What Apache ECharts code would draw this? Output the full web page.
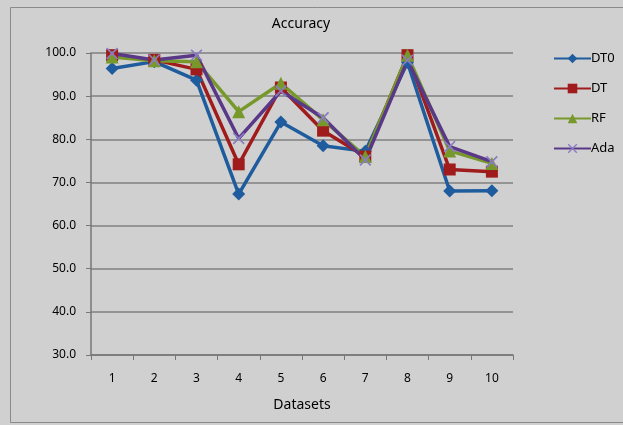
<!DOCTYPE html>
<html><head><meta charset="utf-8">
<script src="https://cdn.jsdelivr.net/npm/echarts@6/dist/echarts.min.js"></script>
<style>html,body{margin:0;padding:0;background:#d0d0d0}#c{width:623px;height:425px}</style>
</head><body><div id="c"></div>
<script>
var categories = ['1','2','3','4','5','6','7','8','9','10'];
var dt0 = [96.4, 98.0, 93.7, 67.3, 84.0, 78.5, 77.2, 97.8, 68.0, 68.1];
var dt  = [99.5, 98.4, 96.2, 74.2, 92.0, 82.0, 76.0, 99.5, 73.0, 72.5];
var rf  = [99.1, 98.2, 98.0, 86.4, 93.0, 84.5, 76.0, 99.5, 77.3, 74.4];
var ada = [99.9, 98.4, 99.5, 80.2, 91.2, 85.0, 75.2, 98.3, 78.3, 74.8];
var yTicks = [30, 40, 50, 60, 70, 80, 90, 100];

var font = 'Noto Sans';
var cross = 'path://M0,1 L1,0 L5,4 L9,0 L10,1 L6,5 L10,9 L9,10 L5,6 L1,10 L0,9 L4,5 Z';
function s(name, data, color, symbol, size, symColor) {
  return {name: name, type: 'line', data: data, symbol: symbol, symbolSize: size,
    lineStyle: {width: 3.5, color: color}, itemStyle: {color: symColor || color},
    emphasis: {disabled: true}, animation: false};
}
var chart = echarts.init(document.getElementById('c'));
chart.setOption({
  backgroundColor: '#d0d0d0',
  animation: false,
  graphic: [{type: 'rect', shape: {x: 10.5, y: 7.5, width: 640, height: 415},
    style: {fill: 'none', stroke: '#8a8a8a', lineWidth: 1}}],
  title: {text: 'Accuracy', left: 296, top: 12, textAlign: 'center',
    textStyle: {fontFamily: font, fontSize: 14, fontWeight: 'normal', color: '#000'}},
  legend: {orient: 'vertical', left: 553, top: 52, padding: 0, itemWidth: 37, itemHeight: 12, itemGap: 17,
    textStyle: {fontFamily: font, fontSize: 13, color: '#000', padding: [0,0,0,-5]},
    data: ['DT0','DT','RF','Ada']},
  grid: {left: 91, right: 110, top: 53, bottom: 70},
  xAxis: {type: 'category', data: categories, boundaryGap: true,
    name: 'Datasets', nameLocation: 'middle', nameGap: 43,
    nameTextStyle: {fontFamily: font, fontSize: 14, color: '#000'},
    axisLine: {lineStyle: {color: '#777', width: 1.5}},
    axisTick: {show: true, length: 5, lineStyle: {color: '#777'}},
    axisLabel: {fontFamily: font, fontSize: 12, color: '#000', margin: 18}},
  yAxis: {type: 'value', min: 30, max: 100, interval: 10,
    axisLine: {show: true, lineStyle: {color: '#777', width: 1.5}},
    axisTick: {show: true, length: 5, lineStyle: {color: '#777'}},
    splitLine: {lineStyle: {color: '#808080', width: 1.5}},
    axisLabel: {fontFamily: font, fontSize: 12, color: '#000', margin: 15,
      formatter: function (v) { return yTicks.indexOf(v) >= 0 ? v.toFixed(1) : ''; }}},
  series: [
    s('DT0', dt0, '#1f5c9e', 'diamond', 13),
    s('DT', dt, '#a01c1c', 'rect', 12),
    s('RF', rf, '#77992b', 'triangle', 13),
    s('Ada', ada, '#5a3888', cross, 12, '#8a7cc0')
  ]
});
</script></body></html>
